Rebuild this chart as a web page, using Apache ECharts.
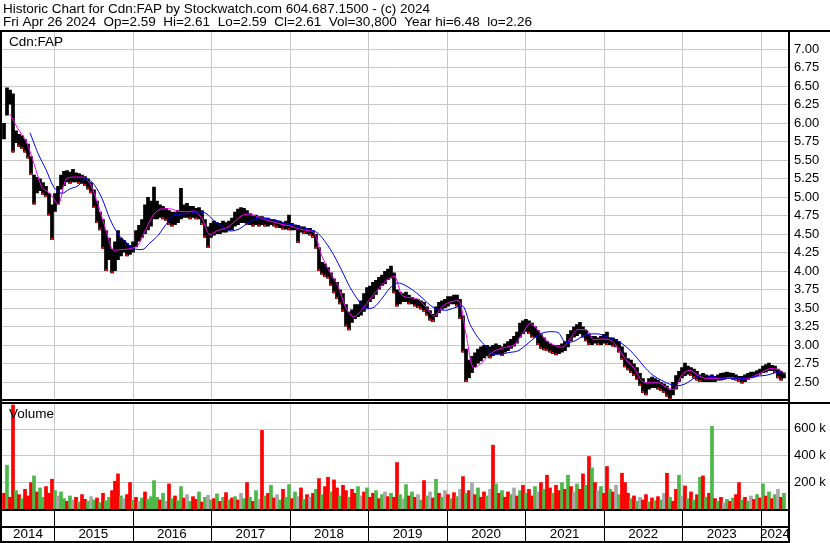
<!DOCTYPE html>
<html><head><meta charset="utf-8">
<script src="https://cdn.jsdelivr.net/npm/echarts@6/dist/echarts.min.js"></script>
<style>html,body{margin:0;padding:0;background:#fff}#c{width:830px;height:543px}</style>
</head><body><div id="c"></div>
<script>
// ---- axis range (decimal years) ----
const xMin = 2014.338, xMax = 2024.356;
const yearStarts = [2014,2015,2016,2017,2018,2019,2020,2021,2022,2023,2024];
const yearLabels = ['2014','2015','2016','2017','2018','2019','2020','2021','2022','2023','2024'];
const priceTicks = {min:2.25, max:7.25, step:0.25};
const volTicks = {min:0, max:800000, step:200000};

// ---- price samples (every ~2 weeks) ----
const priceStart = 2014.3635, priceStep = 0.038187;
const priceLow = [
5.78,6.10,6.25,5.60,5.73,5.68,5.65,5.60,5.52,5.30,
4.90,5.05,5.08,5.03,5.00,4.75,4.42,4.80,4.90,5.10,
5.15,5.20,5.18,5.20,5.20,5.18,5.18,5.15,5.10,5.05,
4.85,4.65,4.55,4.30,4.00,4.15,3.97,4.00,4.15,4.20,
4.25,4.20,4.22,4.25,4.32,4.40,4.45,4.50,4.55,4.60,
4.70,4.70,4.72,4.70,4.68,4.62,4.60,4.62,4.65,4.70,
4.72,4.72,4.70,4.72,4.70,4.70,4.62,4.45,4.31,4.45,
4.48,4.50,4.50,4.52,4.52,4.55,4.55,4.60,4.62,4.65,
4.65,4.62,4.62,4.60,4.62,4.60,4.62,4.60,4.60,4.62,
4.60,4.58,4.58,4.56,4.56,4.55,4.55,4.55,4.38,4.52,
4.50,4.50,4.48,4.45,4.30,4.00,3.95,3.92,3.90,3.80,
3.70,3.62,3.55,3.45,3.25,3.20,3.30,3.35,3.38,3.40,
3.45,3.50,3.58,3.62,3.68,3.75,3.80,3.82,3.88,3.90,
3.70,3.52,3.55,3.58,3.58,3.55,3.55,3.52,3.50,3.48,
3.45,3.40,3.33,3.31,3.38,3.43,3.48,3.50,3.52,3.55,
3.55,3.52,3.35,2.90,2.50,2.55,2.62,2.70,2.75,2.78,
2.82,2.85,2.82,2.85,2.88,2.88,2.85,2.90,2.92,2.95,
2.98,3.02,3.10,3.15,3.18,3.15,3.10,3.10,3.00,2.95,
2.93,2.92,2.90,2.88,2.86,2.88,2.90,2.92,2.97,3.05,
3.10,3.12,3.15,3.10,3.05,3.00,3.00,3.02,3.00,3.00,
3.02,3.00,3.00,2.98,2.97,2.90,2.80,2.70,2.66,2.62,
2.58,2.53,2.45,2.35,2.32,2.40,2.42,2.42,2.40,2.38,
2.35,2.30,2.26,2.32,2.40,2.50,2.55,2.58,2.60,2.58,
2.55,2.52,2.50,2.50,2.50,2.50,2.50,2.50,2.52,2.52,
2.53,2.55,2.55,2.53,2.52,2.50,2.48,2.50,2.53,2.55,
2.56,2.58,2.60,2.62,2.63,2.65,2.65,2.62,2.55,2.52,
2.55];
const priceHigh = [
6.00,6.48,6.45,6.40,5.90,5.85,5.83,5.78,5.72,5.55,
5.30,5.27,5.25,5.20,5.15,5.05,4.90,5.05,5.15,5.30,
5.35,5.36,5.34,5.38,5.33,5.32,5.30,5.28,5.25,5.20,
5.10,4.95,4.80,4.70,4.55,4.45,4.30,4.40,4.55,4.45,
4.42,4.38,4.35,4.40,4.55,4.62,4.70,4.90,5.00,4.95,
5.14,4.95,4.90,4.88,4.85,4.82,4.80,4.80,4.82,5.12,
4.90,4.92,4.88,4.88,4.85,4.86,4.82,4.70,4.60,4.65,
4.68,4.66,4.65,4.68,4.66,4.68,4.72,4.80,4.84,4.86,
4.85,4.82,4.78,4.75,4.76,4.74,4.74,4.72,4.72,4.70,
4.70,4.68,4.68,4.66,4.68,4.76,4.65,4.63,4.62,4.60,
4.60,4.58,4.58,4.55,4.50,4.32,4.12,4.10,4.05,3.98,
3.90,3.85,3.75,3.70,3.55,3.45,3.48,3.55,3.55,3.60,
3.70,3.78,3.80,3.85,3.88,3.92,3.95,4.00,4.03,4.07,
3.98,3.75,3.72,3.70,3.72,3.68,3.65,3.62,3.62,3.60,
3.58,3.52,3.47,3.42,3.52,3.58,3.60,3.62,3.66,3.66,
3.68,3.68,3.62,3.40,2.95,2.80,2.85,2.90,2.95,2.98,
3.00,3.00,2.98,3.00,3.02,3.00,2.98,3.02,3.05,3.08,
3.12,3.18,3.30,3.33,3.35,3.33,3.30,3.25,3.20,3.15,
3.10,3.05,3.02,3.00,3.00,3.00,3.02,3.05,3.15,3.20,
3.25,3.28,3.31,3.25,3.20,3.15,3.12,3.12,3.10,3.12,
3.15,3.18,3.10,3.10,3.08,3.05,2.98,2.90,2.82,2.80,
2.75,2.70,2.62,2.55,2.50,2.55,2.57,2.55,2.53,2.50,
2.48,2.45,2.40,2.50,2.59,2.65,2.70,2.76,2.72,2.70,
2.68,2.65,2.60,2.62,2.60,2.58,2.60,2.58,2.60,2.62,
2.63,2.64,2.63,2.62,2.60,2.58,2.58,2.60,2.62,2.64,
2.64,2.66,2.68,2.72,2.74,2.76,2.73,2.72,2.68,2.65,
2.63];

// ---- moving averages (sampled every ~5 weeks) ----
const maStep = 0.101833;
const maShortStart = 2014.4399;
const maShort = [
6.12,5.92,5.76,5.45,5.13,5.05,4.90,5.24,5.27,5.27,
5.18,4.90,4.55,4.28,4.29,4.30,4.35,4.57,4.77,4.84,
4.84,4.81,4.80,4.81,4.71,4.49,4.55,4.58,4.66,4.75,
4.77,4.73,4.69,4.66,4.63,4.61,4.57,4.55,4.52,4.20,
3.98,3.80,3.50,3.38,3.48,3.62,3.75,3.87,3.93,3.67,
3.64,3.62,3.51,3.39,3.52,3.58,3.60,3.15,2.69,2.76,
2.88,2.94,2.97,3.00,3.14,3.29,3.20,3.07,3.00,2.97,
3.08,3.21,3.21,3.07,3.08,3.07,2.96,2.80,2.69,2.51,
2.49,2.49,2.43,2.40,2.60,2.66,2.59,2.55,2.55,2.55,
2.56,2.55,2.54,2.58,2.63,2.68,2.67,2.60];
const maLongStart = 2014.6945;
const maLong = [
5.87,5.59,5.37,5.13,5.05,5.11,5.15,5.25,5.17,4.98,
4.70,4.50,4.39,4.30,4.29,4.38,4.48,4.63,4.76,4.77,
4.78,4.80,4.78,4.68,4.61,4.54,4.56,4.63,4.70,4.72,
4.70,4.68,4.64,4.62,4.59,4.56,4.51,4.38,4.21,4.00,
3.78,3.61,3.49,3.51,3.63,3.77,3.84,3.80,3.73,3.64,
3.54,3.48,3.47,3.50,3.53,3.28,3.10,2.98,2.87,2.88,
2.90,2.92,3.00,3.09,3.16,3.18,3.17,3.03,3.05,3.11,
3.15,3.15,3.11,3.08,3.02,2.93,2.81,2.68,2.58,2.52,
2.47,2.45,2.48,2.55,2.59,2.58,2.56,2.55,2.55,2.55,
2.56,2.58,2.59,2.62,2.64];

// ---- volume (thousands), same dates as price samples ----
const volume = [
120,330,90,780,140,110,80,150,100,200,
250,130,160,90,170,120,225,140,100,130,
80,60,100,70,90,55,110,75,60,95,
70,85,50,120,65,90,140,210,265,100,
80,110,200,70,90,60,85,130,75,95,
215,90,70,120,60,190,80,100,65,170,
85,110,60,95,75,130,55,90,105,70,
80,115,60,90,125,70,85,95,70,120,
80,200,90,60,140,75,590,100,120,180,
85,110,70,150,90,185,80,130,95,160,
75,110,90,120,150,230,110,170,240,130,
220,160,100,180,140,90,150,120,170,100,
130,160,90,120,140,80,110,130,95,120,
90,350,110,80,185,100,130,90,110,70,
215,100,130,85,225,120,90,140,110,80,
125,95,150,245,120,140,200,110,160,90,
130,100,150,480,190,120,140,90,130,110,
160,100,140,180,120,150,100,170,130,200,
150,255,160,120,180,140,200,150,255,170,
130,190,150,265,180,395,310,200,140,170,
120,320,150,130,180,110,270,200,120,80,
100,60,90,70,110,55,85,65,95,70,
120,270,90,60,150,255,100,175,80,130,
70,110,240,250,90,120,620,80,60,90,
50,75,60,85,110,200,70,90,60,100,
75,110,85,190,100,130,80,110,150,90,
120];
const volumeColor = ('rgrrgrgrrrgrggrrrgng' + 'grgnrgrrgngrgrggrrrgnrrgrngrggg' +
  'grgnrgrggrngrrgrgngrgrgrgr' + 'grngrgrgnrgrgrngrggrgnrgrn' +
  'rgrgrrgrrgrrgrrgnrgrrgrgnr' + 'grrgngrgrngrgnrgrgnrgrgnrg' +
  'rnrgrrgnrgrgrrgnrgrgrrgnrgr' + 'rgrrgrgrngrrgrgrngrrgrngrr' +
  'rgrgnrrgrgrgnrgrrgnrgrgrg' + 'rgrgrgrngrgrrgrgnrgr' + 'grgrgnrg').split('');

// ---------------- build ----------------
const FONT = '"Liberation Sans", Arial, sans-serif';
const C = {r:'#ff0000', g:'#4cb848', n:'#a8a8a8'};
const priceData = priceLow.map((lo,i)=>[priceStart + i*priceStep, lo, priceHigh[i], i>0 && lo < priceLow[i-1] ? 1 : 0]);
const volData = volume.map((v,i)=>[priceStart + i*priceStep, v*1000, volumeColor[i]]);
const maShortData = maShort.map((v,i)=>[maShortStart + i*maStep, v]);
const maLongData = maLong.map((v,i)=>[maLongStart + i*maStep, v]);
const yearGridData = yearStarts.filter(y=>y>xMin).map(y=>[y]);
const yearBoxData = yearStarts.map((y,i)=>[y, y+1, yearLabels[i]]);

const plotL = 2, plotW = 787;
function xAxisCfg(idx){ return {type:'value', gridIndex:idx, min:xMin, max:xMax, show:false}; }
function gridLines(idx){
  return {type:'custom', xAxisIndex:idx, yAxisIndex:idx, z:1, silent:true, data:yearGridData,
    renderItem:(p,api)=>{ const cs=p.coordSys; const x=Math.round(api.coord([api.value(0),0])[0])+0.5;
      return {type:'line', shape:{x1:x,y1:cs.y,x2:x,y2:cs.y+cs.height}, style:{stroke:'#c8c8c8',lineWidth:1}}; }};
}

const option = {
  animation:false, backgroundColor:'#fff',
  grid:[
    {left:plotL, width:plotW, top:30.5, height:370},
    {left:plotL, width:plotW, top:402, height:107},
    {left:plotL, width:plotW, top:509, height:32}
  ],
  xAxis:[xAxisCfg(0), xAxisCfg(1), xAxisCfg(2)],
  yAxis:[
    {type:'value', gridIndex:0, position:'right', min:priceTicks.min, max:priceTicks.max, interval:priceTicks.step,
     axisLine:{show:false}, axisTick:{show:false},
     axisLabel:{margin:5, color:'#000', fontSize:13, fontFamily:FONT, showMinLabel:false, showMaxLabel:false,
       formatter:v=>v.toFixed(2)},
     splitLine:{lineStyle:{color:'#c8c8c8', width:1}}},
    {type:'value', gridIndex:1, position:'right', min:volTicks.min, max:volTicks.max, interval:volTicks.step,
     axisLine:{show:false}, axisTick:{show:false},
     axisLabel:{margin:5, color:'#000', fontSize:13, fontFamily:FONT, showMinLabel:false, showMaxLabel:false,
       formatter:v=>(v/1000)+' k'},
     splitLine:{lineStyle:{color:'#c8c8c8', width:1}}},
    {type:'value', gridIndex:2, min:0, max:1, show:false}
  ],
  series:[
    gridLines(0), gridLines(1),
    {type:'custom', name:'price', xAxisIndex:0, yAxisIndex:0, z:3, clip:true, data:priceData,
     renderItem:(p,api)=>{ const x=api.value(0); const a=api.coord([x,api.value(2)]); const b=api.coord([x,api.value(1)]);
       const w=api.size([priceStep,0])[0]+0.7;
       const kids=[{type:'rect', shape:{x:a[0]-w/2, y:a[1], width:w, height:Math.max(1,b[1]-a[1])}, style:{fill:'#000'}}];
       if (api.value(3)) kids.push({type:'rect', shape:{x:a[0]-1, y:b[1]-2, width:2, height:2}, style:{fill:'#ff0000'}});
       return {type:'group', children:kids}; }},
    {type:'line', name:'MA short', xAxisIndex:0, yAxisIndex:0, z:4, data:maShortData, showSymbol:false, smooth:0.3,
     lineStyle:{color:'#ff00ff', width:1}},
    {type:'line', name:'MA long', xAxisIndex:0, yAxisIndex:0, z:4, data:maLongData, showSymbol:false, smooth:0.3,
     lineStyle:{color:'#0000ff', width:1}},
    {type:'custom', name:'volume', xAxisIndex:1, yAxisIndex:1, z:3, clip:true, data:volData,
     renderItem:(p,api)=>{ const x=api.value(0); const a=api.coord([x,api.value(1)]); const b=api.coord([x,0]);
       const w=api.size([priceStep,0])[0]+0.7;
       return {type:'rect', shape:{x:a[0]-w/2, y:a[1], width:w, height:b[1]-a[1]}, style:{fill:C[volData[p.dataIndex][2]]}}; }},
    {type:'custom', name:'years', xAxisIndex:2, yAxisIndex:2, z:5, silent:true, data:yearBoxData,
     renderItem:(p,api)=>{ const cs=p.coordSys;
       const s=api.value(0), e=api.value(1);
       const x0=Math.max(api.coord([s,0])[0], cs.x), x1=Math.min(api.coord([e,0])[0], cs.x+cs.width);
       const children=[];
       if (s>xMin){ const lx=Math.round(x0)+0.5; children.push({type:'line', shape:{x1:lx,y1:cs.y,x2:lx,y2:cs.y+cs.height}, style:{stroke:'#000',lineWidth:1}}); }
       children.push({type:'text', style:{text:yearBoxData[p.dataIndex][2], x:(x0+x1)/2, y:cs.y+25.5, align:'center', verticalAlign:'middle', fill:'#000', font:'13.4px '+FONT}});
       return {type:'group', children}; }}
  ],
  graphic:[
    {type:'text', left:3, top:2, z:10, style:{text:'Historic Chart for Cdn:FAP by Stockwatch.com 604.687.1500 - (c) 2024', fill:'#000', font:'13.5px '+FONT}},
    {type:'text', left:3, top:15, z:10, style:{text:'Fri Apr 26 2024  Op=2.59  Hi=2.61  Lo=2.59  Cl=2.61  Vol=30,800  Year hi=6.48  lo=2.26', fill:'#000', font:'13.5px '+FONT}},
    {type:'text', left:9, top:35, z:10, style:{text:'Cdn:FAP', fill:'#000', font:'13.5px '+FONT}},
    {type:'text', left:9, top:407, z:10, style:{text:'Volume', fill:'#000', font:'13.5px '+FONT}},
    {type:'rect', z:10, shape:{x:0,y:30,width:830,height:2}, style:{fill:'#000'}},
    {type:'rect', z:10, shape:{x:0,y:30,width:2,height:513}, style:{fill:'#000'}},
    {type:'rect', z:10, shape:{x:788,y:30,width:2,height:513}, style:{fill:'#000'}},
    {type:'rect', z:10, shape:{x:0,y:399,width:790,height:2}, style:{fill:'#000'}},
    {type:'rect', z:10, shape:{x:0,y:402,width:830,height:2}, style:{fill:'#000'}},
    {type:'rect', z:10, shape:{x:0,y:509,width:790,height:2}, style:{fill:'#000'}},
    {type:'rect', z:10, shape:{x:0,y:526,width:790,height:2}, style:{fill:'#000'}},
    {type:'rect', z:10, shape:{x:0,y:541,width:790,height:2}, style:{fill:'#000'}}
  ]
};
const chart = echarts.init(document.getElementById('c'), null, {renderer:'canvas'});
chart.setOption(option);
</script></body></html>
